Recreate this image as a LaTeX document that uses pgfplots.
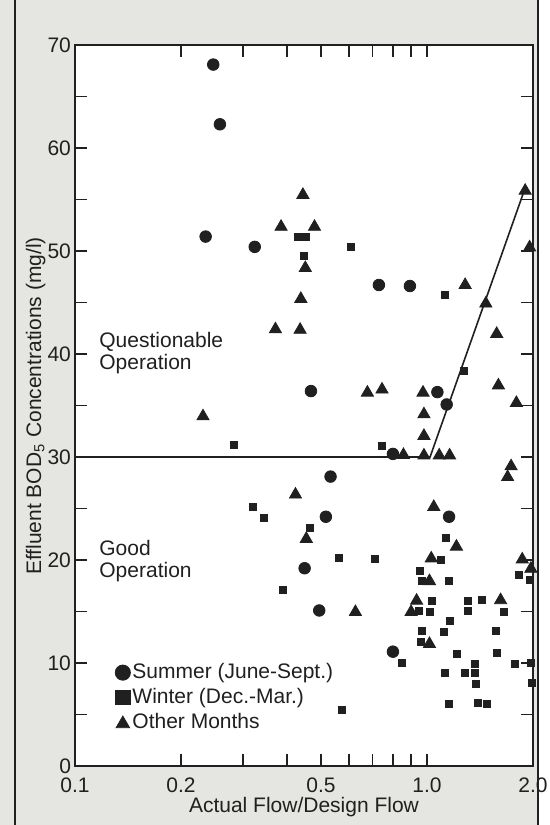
\documentclass[border=0pt]{standalone}
\usepackage{fontspec}
\setmainfont{Liberation Sans}
\usepackage{pgfplots}
\pgfplotsset{compat=1.18}
\definecolor{ink}{RGB}{32,32,32}
\definecolor{paper}{RGB}{229,229,226}
\pgfplotsset{
  markleg/.style={legend image code/.code={\draw[##1] plot coordinates {(0pt,0pt)};}},
  markLegT/.style={legend image code/.code={\draw[##1] plot coordinates {(0pt,-0.6pt)};}},
}
\begin{document}
\begin{tikzpicture}
\useasboundingbox (0pt,0pt) rectangle (275pt,412.5pt);
\fill[white] (0pt,0pt) rectangle (275pt,412.5pt);
\fill[paper] (0pt,0pt) rectangle (269pt,412.5pt);
\draw[ink, line width=0.9pt] (7.5pt,0pt) -- (7.5pt,412.5pt);
\draw[ink, line width=0.9pt] (269pt,0pt) -- (269pt,412.5pt);
\begin{axis}[
  at={(37.5pt,29.5pt)}, anchor=south west,
  scale only axis, width=229pt, height=360.5pt,
  xmode=log, xmin=0.1, xmax=2, ymin=0, ymax=70,
  clip=false,
  axis background/.style={fill=white},
  axis line style={ink, line width=0.9pt},
  every tick/.style={ink, line width=0.7pt},
  major tick length=6pt, minor tick length=6pt,
  /pgf/number format/assume math mode=true,
  tick label style={font=\fontsize{10.5}{12}\selectfont, text=ink},
  xtick={0.2,0.3,0.4,0.5,0.6,0.7,0.8,0.9,1},
  xticklabels={0.2,{},{},0.5,{},{},{},{},1.0},
  extra x ticks={0.1,2},
  extra x tick labels={0.1,2.0},
  extra x tick style={major tick length=0pt},
  ytick={0,10,...,70},
  minor ytick={5,15,...,65},
  yticklabel style={xshift=1.5pt},
  xticklabel style={yshift=-2.5pt},
  legend style={at={(rel axis cs:0.087,0.146)}, anchor=north west, draw=none, fill=none,
    inner sep=0pt, row sep=1pt, column sep=0pt,
    font=\fontsize{10.5}{12}\selectfont,
    nodes={text height=7.5pt, text depth=2pt, inner sep=1pt, text=ink}},
  legend cell align=left,
]
% design line
\addplot[ink, line width=0.8pt, mark=none, forget plot] coordinates {(0.1,30) (1.02,30) (1.89,55.9)};
% Summer
\addplot[only marks, mark=*, mark size=2.9pt, mark options={fill=ink, draw=ink}, forget plot] coordinates {
(0.247,68.1) (0.258,62.3) (0.235,51.4) (0.324,50.4) (0.73,46.7) (0.894,46.6) (0.468,36.4) (1.07,36.3)
(1.137,35.1) (0.80,30.3) (0.532,28.1) (1.155,24.2) (0.516,24.2) (0.449,19.2) (0.494,15.1) (0.80,11.1)};
% Winter
\addplot[only marks, mark=square*, mark size=1.75pt, mark options={fill=ink, draw=ink}, forget plot] coordinates {
(0.429,51.4) (0.452,51.4) (0.607,50.4) (0.447,49.5) (1.127,45.7) (1.27,38.4) (0.283,31.2) (0.743,31.1)
(0.32,25.2) (0.343,24.1) (0.465,23.1) (1.128,22.1) (0.561,20.2) (0.713,20.1) (1.098,20.0) (0.957,18.9)
(1.824,18.6) (1.959,18.1) (0.966,18.0) (1.15,18.0) (0.389,17.1) (1.03,16.0) (1.303,16.0) (1.436,16.1)
(0.951,15.1) (1.017,15.0) (1.304,15.1) (1.655,15.0) (1.161,14.1) (0.97,13.1) (1.117,13.0) (1.566,13.1)
(0.963,12.0) (1.216,10.9) (1.578,11.0) (0.849,10.0) (1.372,9.9) (1.776,9.95) (1.973,10.0) (1.127,9.05)
(1.284,9.0) (1.371,9.0) (1.986,8.1) (1.377,7.95) (1.155,6.0) (1.391,6.1) (1.475,6.0) (0.572,5.45)};
% Other months
\addplot[only marks, mark=triangle*, mark size=3.5pt, mark options={fill=ink, draw=ink}, forget plot] coordinates {
(0.444,55.45) (0.385,52.35) (0.479,52.35) (0.451,48.35) (0.438,45.35) (0.371,42.4) (0.436,42.35) (0.231,33.95)
(1.283,46.7) (1.469,44.9) (1.90,55.85) (1.956,50.35) (1.577,41.95) (1.595,36.95) (1.794,35.25) (0.677,36.25)
(0.745,36.55) (0.974,36.25) (0.98,34.15) (0.98,32.05) (0.857,30.2) (0.98,30.15) (1.083,30.15) (1.159,30.15)
(1.733,29.1) (1.694,28.05) (0.423,26.35) (1.045,25.15) (0.454,22.05) (1.212,21.3) (1.028,20.15) (1.864,20.05)
(1.973,19.15) (1.016,17.95) (0.934,16.05) (1.618,16.1) (0.626,14.95) (0.901,14.95) (1.016,11.85)};
\addlegendimage{mark=*, mark size=3.8pt, mark options={fill=ink, draw=ink}, markleg}
\addlegendentry{Summer (June-Sept.)}
\addlegendimage{mark=square*, mark size=3.6pt, mark options={fill=ink, draw=ink}, markleg}
\addlegendentry{Winter (Dec.-Mar.)}
\addlegendimage{mark=triangle*, mark size=3.9pt, mark options={fill=ink, draw=ink}, markLegT}
\addlegendentry{Other Months}
\end{axis}
\begin{scope}[every node/.style={font=\fontsize{10.5}{12}\selectfont, text=ink, inner sep=0pt}]
\node[anchor=base west] at (49.5pt,238.5pt) {Questionable};
\node[anchor=base west] at (49.5pt,227.5pt) {Operation};
\node[anchor=base west] at (49.5pt,134.5pt) {Good};
\node[anchor=base west] at (49.5pt,123.5pt) {Operation};
\node[anchor=base] at (152pt,6pt) {Actual Flow/Design Flow};
\node[anchor=base, rotate=90] at (20.5pt,209.5pt) {Effluent BOD\textsubscript{5} Concentrations (mg/l)};
\end{scope}
\end{tikzpicture}
\end{document}
